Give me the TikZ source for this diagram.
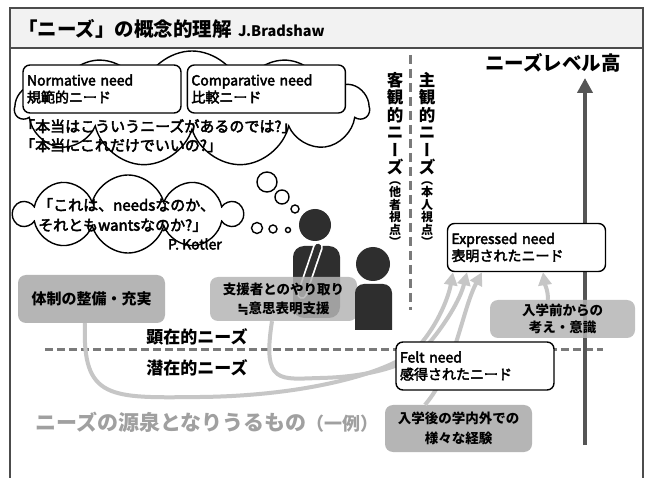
\documentclass[tikz,border=0pt]{standalone}
\usepackage{fontspec}
\setmainfont{Noto Sans CJK JP}
\newfontfamily\medfont{Noto Sans CJK JP}[FakeBold=3]
\newfontfamily\eqfont{DejaVu Sans}[FakeBold=1.5]
\newcommand\vbar{{\addfontfeatures{RawFeature=+vert}ー}}
\usetikzlibrary{positioning,shapes.symbols,arrows.meta}
\definecolor{figdark}{HTML}{2E2E2E}
\definecolor{arrowgray}{HTML}{555555}
\definecolor{dashgray}{HTML}{7A7A7A}
\definecolor{boxgray}{HTML}{B5B5B5}
\definecolor{flowgray}{HTML}{C6C6C6}
\definecolor{srcgray}{HTML}{A0A0A0}

\begin{document}
\begin{tikzpicture}[x=1pt,y=-1pt,
  needbox/.style={draw,line width=1.4pt,rounded corners=7pt,fill=white,minimum height=48pt,
    text width=150pt,align=left,inner sep=4pt,font=\fontsize{14}{17}\selectfont\medfont},
  srcbox/.style={fill=boxgray,rounded corners=8pt,minimum width=147pt,align=center,
    text opacity=1,font=\fontsize{13.5}{19}\selectfont\bfseries},
  flowarrow/.style={flowgray,line width=4pt,-{Triangle[width=13pt,length=13pt]}},
  bubble/.style={circle,draw,line width=1.4pt,inner sep=0pt},
  thought/.style={cloud,draw,fill=white,line width=1.4pt,cloud ignores aspect,inner sep=0pt},
  vlabel/.style={font=\fontsize{16.5}{17.5}\selectfont\bfseries,align=center,inner sep=0pt},
  vsub/.style={font=\fontsize{12}{12.5}\selectfont\bfseries,align=center,inner sep=0pt}]

\useasboundingbox (0,0) rectangle (651,478);
\fill[white] (0,0) rectangle (651,478);

% frame and title
\draw[line width=1.2pt,gray!60!black,fill=gray!10] (10,8) rectangle (643,48);
\draw[line width=1.2pt,gray!60!black] (10,48) -- (10,480) (643,48) -- (643,480);
\node[anchor=west,inner sep=0pt,font=\fontsize{19.5}{20}\selectfont\bfseries] (title) at (18,29) {「ニーズ」の概念的理解};
\node[anchor=base west,inner sep=0pt,font=\fontsize{14.5}{15}\selectfont\bfseries] (author) at ([xshift=6pt]title.base east) {J.Bradshaw};

% thought clouds
\node[thought,cloud puffs=11,minimum width=352pt,minimum height=116pt] (cloudA) at (192,109) {};
\node[needbox] (normative) at (102,89) {Normative need\\規範的ニード};
\node[needbox,right=5pt of normative] (comparative) {Comparative need\\比較ニード};
\node[anchor=north west,align=left,inner sep=0pt,font=\fontsize{15}{19}\selectfont\medfont] (askA) at (20,119)
  {「本当はこういうニーズがあるのでは?」\\「本当にこれだけでいいの?」};

\node[thought,cloud puffs=10,minimum width=226pt,minimum height=78pt] (cloudB) at (128,214) {};
\node[anchor=west,align=left,inner sep=0pt,font=\fontsize{15}{20}\selectfont\medfont] (askB) at (38,215)
  {「これは、needsなのか、\\それともwantsなのか?」};
\node[anchor=east,inner sep=0pt,font=\fontsize{14}{14}\selectfont\medfont] (kotler) at (222,244) {P. Kotler};

\node[bubble,minimum size=20pt] (bubA1) at (267,182) {};
\node[bubble,minimum size=14pt] (bubA2) at (282,197) {};
\node[bubble,minimum size=8pt] (bubA3) at (295,209) {};
\node[bubble,minimum size=11pt] (bubB1) at (257,228) {};
\node[bubble,minimum size=8pt] (bubB2) at (273,229) {};
\node[bubble,minimum size=5pt] (bubB3) at (288,230) {};

% objective / subjective
\draw[dashgray,line width=3pt,dash pattern=on 9pt off 5pt] (410,55) -- (410,310);
\node[vlabel,anchor=north] (objective) at (395,72) {客\\観\\的\\ニ\\\vbar\\ズ};
\node[vsub,below=6pt of objective] (objview) {︵\\他\\者\\視\\点\\︶};
\node[vlabel,anchor=north] (subjective) at (427,72) {主\\観\\的\\ニ\\\vbar\\ズ};
\node[vsub,below=6pt of subjective] (selfview) {︵\\本\\人\\視\\点\\︶};

% manifest / latent
\draw[dashgray,line width=3pt,dash pattern=on 8pt off 4pt] (45,350) -- (603,350);
\node[font=\fontsize{17}{17}\selectfont\bfseries] (manifest) at (197,337) {顕在的ニーズ};
\node[font=\fontsize{17}{17}\selectfont\bfseries] (latent) at (197,368) {潜在的ニーズ};

% need level
\node[font=\fontsize{19.5}{20}\selectfont\bfseries] (high) at (553,63) {ニーズレベル高};
\coordinate (lowend) at (585,445);
\coordinate (top) at (585,78);
\draw[arrowgray,line width=4.5pt,-{Triangle[width=15pt,length=15pt]}] (lowend) -- (top);

% two people
\fill[figdark] (315,225) circle (16pt);
\fill[figdark,rounded corners=11pt] (293,318) -- (293,246) -- (340,246) -- (340,318) -- cycle;
\draw[white,line width=10pt,line cap=round] (302,294) -- (318,247);
\draw[figdark,line width=6.5pt,line cap=round] (302,294) -- (318,247);

% sources of need
\node[srcbox,minimum height=48pt,font=\fontsize{15}{19}\selectfont\bfseries] (system) at (91.5,299) {体制の整備・充実};
\node[srcbox,minimum height=44pt,fill opacity=0.85] (support) at (283.5,299) {支援者とのやり取り\\{\eqfont ≒}意思表明支援};
\node[srcbox,minimum width=145pt,minimum height=38pt,fill opacity=0.85,font=\fontsize{13.5}{17}\selectfont\bfseries] (before) at (562.5,319) {入学前からの\\考え・意識};
\node[srcbox,minimum height=47pt,font=\fontsize{13.5}{20}\selectfont\bfseries] (after) at (458.5,428.5) {入学後の学内外での\\様々な経験};

\fill[figdark] (373,264) circle (17pt);
\fill[figdark] (355,330) [rounded corners=9pt] -- (355,284) -- (392,284) [sharp corners] -- (392,330) -- cycle;

\node[needbox] (expressed) at (526.5,247.5) {Expressed need\\表明されたニード};

\draw[flowarrow] ([xshift=-6.5pt]system.south) .. controls (82,400) and (110,398) .. (200,397)
  .. controls (300,396) and (385,375) .. (415,350) .. controls (435,330) and (448,300) .. ([xshift=-73.5pt]expressed.south);
\draw[flowarrow] ([xshift=-11.5pt]support.south) .. controls (262,385) and (280,379) .. (320,378)
  .. controls (370,377) and (410,365) .. (425,348) .. controls (445,325) and (460,300) .. ([xshift=-59.5pt]expressed.south);
\draw[flowarrow] ([xshift=-33.5pt]after.north) .. controls (455,370) and (462,310) .. ([xshift=-44.5pt]expressed.south);
\draw[flowarrow] ([xshift=-14.5pt]before.north) .. controls (548,290) and (545,285) .. ([xshift=16.5pt]expressed.south);

\node[needbox] (felt) at (475,366) {Felt need\\感得されたニード};

\node[anchor=west,inner sep=0pt,text=srcgray,font=\fontsize{21}{22}\selectfont\bfseries] (sources) at (35,422)
  {ニーズの源泉となりうるもの{\fontsize{18}{18}\selectfont（一例）}};
\end{tikzpicture}
\end{document}
